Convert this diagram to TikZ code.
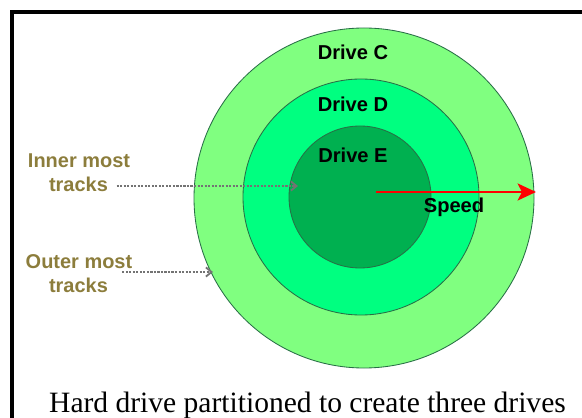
\documentclass[tikz,border=0pt]{standalone}
\usepackage{fontspec}
\setmainfont{Liberation Serif}
\setsansfont{Liberation Sans}
\usetikzlibrary{arrows.meta}

\definecolor{ringC}{RGB}{128,255,128}
\definecolor{ringD}{RGB}{0,255,128}
\definecolor{ringE}{RGB}{0,176,80}
\definecolor{rimgreen}{RGB}{40,110,70}
\definecolor{trackgold}{RGB}{140,125,60}

\tikzset{
  drivelabel/.style={font=\sffamily\bfseries\fontsize{14.3}{16}\selectfont, inner sep=0pt, anchor=base},
  tracklabel/.style={font=\sffamily\bfseries\fontsize{14.2}{16}\selectfont, text=trackgold, inner sep=0pt, anchor=base},
  ring/.style={draw=rimgreen, line width=0.6pt},
  pointer/.style={gray!90!black, densely dotted, line width=1.5pt, -{Straight Barb[length=4pt,width=6.5pt,line width=1.3pt]}}
}

\begin{document}
\begin{tikzpicture}[x=0.025cm,y=-0.025cm]
\useasboundingbox (0,0) rectangle (582,418);

%Rahmen
\draw[line width=2.2pt] (12,420) -- (12,12) -- (584,12);

%Ringe
\filldraw[ring, fill=ringC] (364,198) circle (170);
\filldraw[ring, fill=ringD] (361,197) circle (118);
\filldraw[ring, fill=ringE] (360,197) circle (71);

%Laufwerke
\node[drivelabel] (driveC) at (353,60) {Drive C};
\node[drivelabel] (driveD) at (353,112) {Drive D};
\node[drivelabel] (driveE) at (353,163) {Drive E};

%Geschwindigkeit
\coordinate (speedstart) at (376,192);
\coordinate (speedend) at (536,192);
\draw[red, line width=2pt, -{Stealth[length=13pt,width=12pt,inset=3pt]}] (speedstart) -- (speedend);
\node[drivelabel] (speed) at (454,212) {Speed};

%Spuren
\node[tracklabel] (innerA) at (79,168) {Inner most};
\node[tracklabel] (innerB) at (78.5,192) {tracks};
\coordinate (innerhit) at (298,186);
\draw[pointer] ([xshift=6pt]innerB.east |- innerhit) -- (innerhit);

\node[tracklabel] (outerA) at (79,268) {Outer most};
\node[tracklabel] (outerB) at (78.5,292) {tracks};
\coordinate (outerhit) at (213,272);
\draw[pointer] ([xshift=10pt]outerB.east |- outerhit) -- (outerhit);

%Beschriftung
\node[font=\fontsize{21}{23}\selectfont, inner sep=0pt, anchor=base] (caption) at (307.5,412) {Hard drive partitioned to create three drives};

\end{tikzpicture}
\end{document}
